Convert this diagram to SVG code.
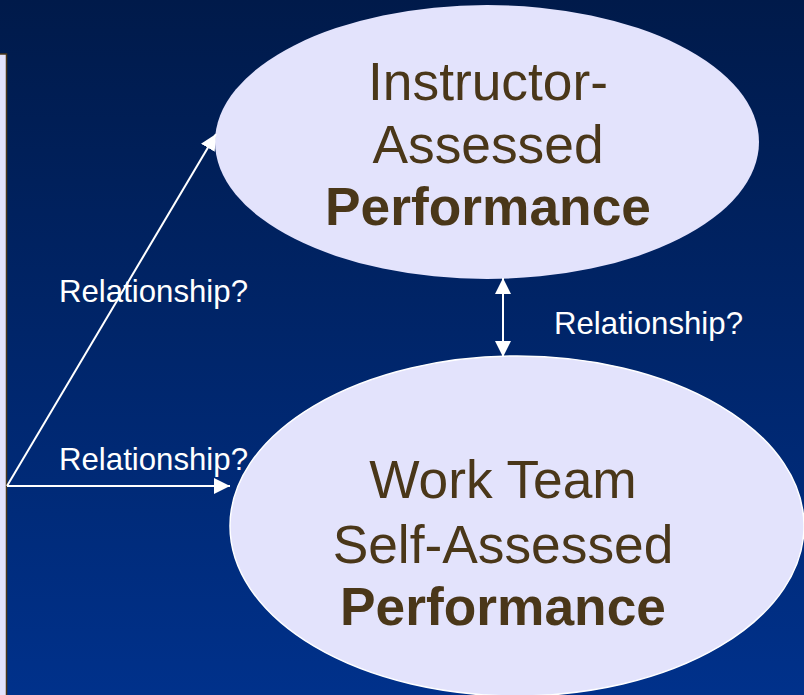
<svg xmlns="http://www.w3.org/2000/svg" width="804" height="695" viewBox="0 0 804 695">
  <defs>
    <linearGradient id="bg" x1="0" y1="0" x2="0" y2="1">
      <stop offset="0" stop-color="#001a4a"/>
      <stop offset="1" stop-color="#00318b"/>
    </linearGradient>
    <marker id="arrow" markerUnits="userSpaceOnUse" markerWidth="16" markerHeight="16" refX="15" refY="7.5" orient="auto-start-reverse" viewBox="0 0 15 15">
      <path d="M0,0 L15,7.5 L0,15 Z" fill="#ffffff"/>
    </marker>
  </defs>
  <style>
    .node { fill: #e3e3fc; }
    .main { font-family: "Liberation Sans", Arial, sans-serif; font-size: 53.3px; fill: #4a3719; text-anchor: middle; }
    .bold { font-weight: bold; }
    .label { font-family: "Liberation Sans", Arial, sans-serif; font-size: 31.2px; fill: #ffffff; }
    .conn { stroke: #ffffff; stroke-width: 2; fill: none; }
  </style>
  <rect x="0" y="0" width="804" height="695" fill="url(#bg)"/>
  <g id="left-panel">
    <rect x="-5" y="54" width="11.5" height="700" fill="#e3e3fc" stroke="#4a3719" stroke-width="1.5"/>
  </g>
  <g id="instructor-node">
    <ellipse class="node" cx="487" cy="142" rx="272" ry="137"/>
    <text class="main" x="488" y="100">Instructor-</text>
    <text class="main" x="488" y="163">Assessed</text>
    <text class="main bold" x="488" y="225">Performance</text>
  </g>
  <g id="team-node">
    <ellipse class="node" cx="517" cy="526" rx="287" ry="170" stroke="#ffffff" stroke-width="1.5"/>
    <text class="main" x="503" y="498">Work Team</text>
    <text class="main" x="503" y="563">Self-Assessed</text>
    <text class="main bold" x="503" y="625">Performance</text>
  </g>
  <g id="connectors">
    <line class="conn" x1="7" y1="486" x2="216" y2="134" stroke-width="1.5" marker-end="url(#arrow)"/>
    <line class="conn" x1="7" y1="486" x2="230" y2="486" marker-end="url(#arrow)"/>
    <line class="conn" x1="503" y1="278" x2="503" y2="357" marker-start="url(#arrow)" marker-end="url(#arrow)"/>
  </g>
  <g id="labels">
    <text class="label" x="59" y="302">Relationship?</text>
    <text class="label" x="59" y="470">Relationship?</text>
    <text class="label" x="554" y="334">Relationship?</text>
  </g>
</svg>
